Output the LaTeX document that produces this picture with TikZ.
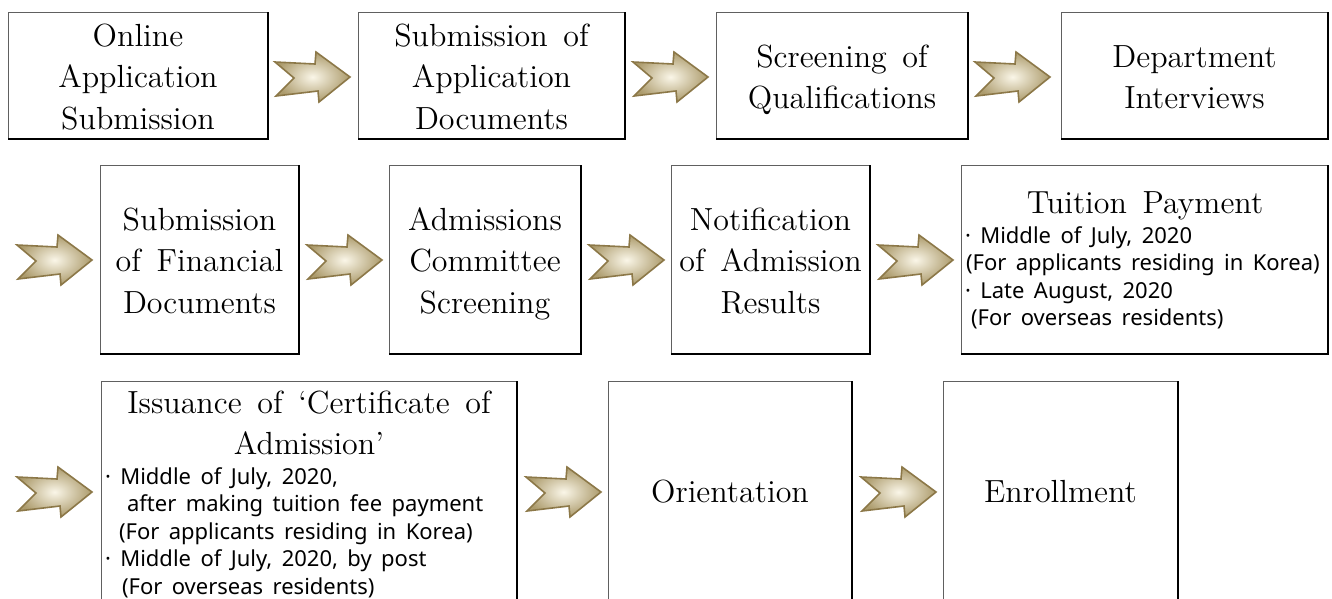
\documentclass[tikz,border=0pt]{standalone}
\usepackage{fontspec}
\newfontfamily\serifw{lmroman12-regular}[Extension=.otf, WordSpace=1.5]
\newfontfamily\sansw{Noto Sans}[WordSpace=1.65]
\newcommand\tstr{\rule[-8.5pt]{0pt}{41.5pt}}
\newcommand\sstr{\rule[-7pt]{0pt}{27.5pt}}
\definecolor{arrlight}{RGB}{250,246,232}
\definecolor{arrdark}{RGB}{172,155,108}
\definecolor{arredge}{RGB}{140,120,72}
\tikzset{
  fatarrow/.pic={
    \draw[arredge, line width=1.6pt, line join=miter,
      preaction={shade, shading=radial, inner color=arrlight, outer color=arrdark}]
      (0,-15) -- (40,-13) -- (41,-25) -- (75,0) -- (44,25) -- (43,14) -- (1,19) -- (19,1) -- cycle;
  }
}
\begin{document}
\begin{tikzpicture}[x=1pt, y=-1pt,
  boxn/.style={inner sep=0pt, outer sep=0pt, anchor=north west, align=center,
    font=\serifw\fontsize{32}{41.5}\selectfont},
  ttl/.style={inner sep=0pt, outer sep=0pt, align=center,
    font=\serifw\fontsize{32}{41.5}\selectfont},
  dtl/.style={inner sep=0pt, outer sep=0pt, anchor=north west, align=left,
    font=\sansw\fontsize{22}{27.5}\selectfont},
  frame/.style={draw=gray!75!black, line width=0.7pt},
  shadowedge/.style={draw=black, line width=2.4pt}
]
\useasboundingbox (0,0) rectangle (1332,598);
\clip (0,0) rectangle (1332,598);

% row 1
\node[boxn, minimum width=260pt, minimum height=127pt] (b1) at (8,12)
  {\tstr Online\\\tstr Application\\\tstr Submission};
\node[boxn, minimum width=267pt, minimum height=127pt] (b2) at (358,12)
  {\tstr Submission of\\\tstr Application\\\tstr Documents};
\node[boxn, minimum width=252pt, minimum height=127pt] (b3) at (716,12)
  {\tstr Screening of\\\tstr Qualifications};
\node[boxn, minimum width=267pt, minimum height=127pt] (b4) at (1061,12)
  {\tstr Department\\\tstr Interviews};

% row 2
\node[boxn, minimum width=199pt, minimum height=189pt] (b5) at (100,165)
  {\tstr Submission\\\tstr of Financial\\\tstr Documents};
\node[boxn, minimum width=192pt, minimum height=189pt] (b6) at (389,165)
  {\tstr Admissions\\\tstr Committee\\\tstr Screening};
\node[boxn, minimum width=199pt, minimum height=189pt] (b7) at (671,165)
  {\tstr Notification\\\tstr of Admission\\\tstr Results};
\node[boxn, minimum width=367pt, minimum height=189pt] (b8) at (961,165) {};
\node[ttl, anchor=base] (t8) at (1145,213) {Tuition Payment};
\node[dtl] (d8) at (965,222.5)
  {\sstr· Middle of July, 2020\\
   \sstr\hspace*{1pt}(For applicants residing in Korea)\\
   \sstr· Late August, 2020\\
   \sstr\hspace*{6pt}(For overseas residents)};

% row 3
\node[boxn, minimum width=416pt, minimum height=219pt] (b9) at (101,381) {};
\node[ttl, anchor=north] (t9) at (309,380)
  {\tstr Issuance of ‘Certificate of\\\tstr Admission’};
\node[dtl] (d9) at (105,463.5)
  {\sstr· Middle of July, 2020,\\
   \sstr\hspace*{22pt}after making tuition fee payment\\
   \sstr\hspace*{14pt}(For applicants residing in Korea)\\
   \sstr· Middle of July, 2020, by post\\
   \sstr\hspace*{17pt}(For overseas residents)};
\node[boxn, minimum width=244pt, minimum height=219pt] (b10) at (608,381)
  {\tstr Orientation};
\node[boxn, minimum width=235pt, minimum height=219pt] (b11) at (943,381)
  {\tstr Enrollment};

% box frames with shadow edges
\foreach \n in {b1,b2,b3,b4,b5,b6,b7,b8,b9,b10,b11}{
  \draw[frame] (\n.north west) rectangle (\n.south east);
  \draw[shadowedge] (\n.north east) -- (\n.south east) -- (\n.south west);
}

% block arrows
\pic (a1) at (275,77) {fatarrow};
\pic (a2) at (633,77) {fatarrow};
\pic (a3) at (975,77) {fatarrow};
\pic (a4) at (17,260) {fatarrow};
\pic (a5) at (307,260) {fatarrow};
\pic (a6) at (589,260) {fatarrow};
\pic (a7) at (878,260) {fatarrow};
\pic (a8) at (17,492) {fatarrow};
\pic (a9) at (526,492) {fatarrow};
\pic (a10) at (861,492) {fatarrow};
\end{tikzpicture}
\end{document}
